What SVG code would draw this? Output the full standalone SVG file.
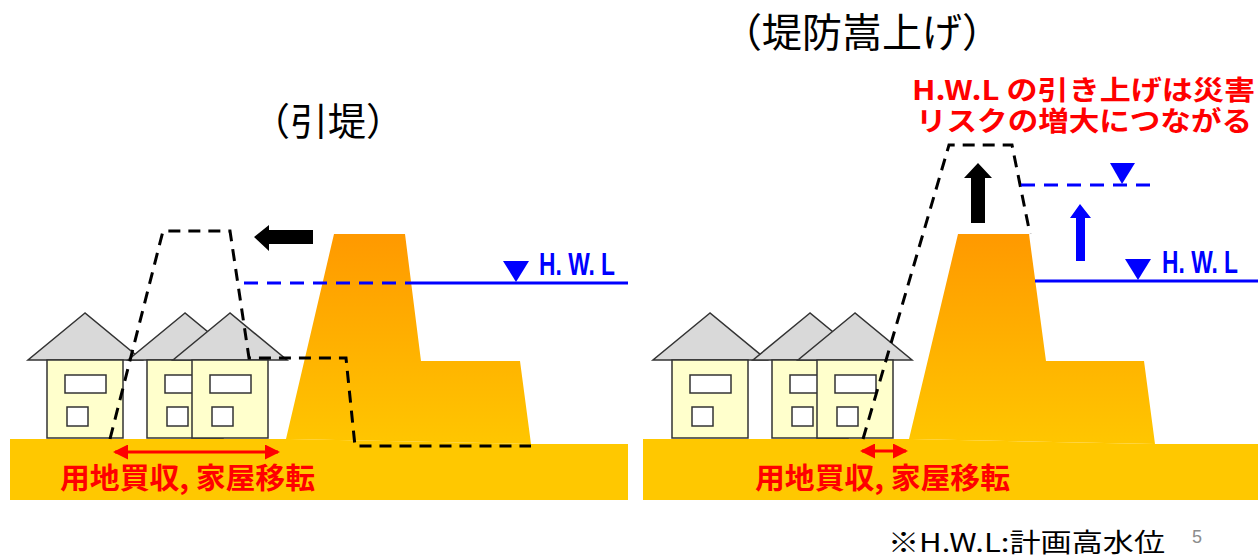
<svg xmlns="http://www.w3.org/2000/svg" width="1260" height="557" viewBox="0 0 1260 557">
  <style>
    .ground { fill: #FFC800; }
    .dike { fill: url(#dikeGrad); }
    .body { fill: #FFFFCC; stroke: #333; stroke-width: 1.5; }
    .roof { fill: #D9D9D9; stroke: #333; stroke-width: 1.5; stroke-linejoin: miter; }
    .win { fill: #FFFFFF; stroke: #333; stroke-width: 1.5; }
    .oldline { fill: none; stroke: #000; stroke-width: 3; stroke-dasharray: 12 8; }
    .hwl { fill: none; stroke: #0000FF; stroke-width: 3; }
    .hwl-dash { fill: none; stroke: #0000FF; stroke-width: 3; stroke-dasharray: 14 9; }
    .tri { fill: #0000FF; }
    .redline { fill: none; stroke: #FF0000; stroke-width: 3; marker-start: url(#redHead); marker-end: url(#redHead); }
    .title { font-family: "Noto Sans CJK JP", "Liberation Sans", sans-serif; fill: #000; }
    .hwltext { font-family: "Liberation Sans", "DejaVu Sans", sans-serif; font-weight: bold; font-size: 32px; fill: #0000FF; }
    .red { font-family: "Noto Sans CJK JP", "Liberation Sans", sans-serif; font-weight: bold; fill: #FF0000; }
    .note { font-family: "Noto Sans CJK JP", "Liberation Sans", sans-serif; font-size: 26px; fill: #000; }
  </style>
  <defs>
    <linearGradient id="dikeGrad" gradientUnits="userSpaceOnUse" x1="0" y1="234" x2="0" y2="444">
      <stop offset="0" stop-color="#FF9900"/>
      <stop offset="1" stop-color="#FFC600"/>
    </linearGradient>
    <marker id="redHead" viewBox="0 0 15 15" refX="13" refY="7.5" markerWidth="15" markerHeight="15" markerUnits="userSpaceOnUse" orient="auto-start-reverse">
      <path d="M0,0 L15,7.5 L0,15 Z" fill="#FF0000"/>
    </marker>
    <g id="house">
      <polygon class="roof" points="38,313 -19,360 95,360"/>
      <rect class="body" x="0" y="360" width="76" height="78"/>
      <rect class="win" x="18" y="375" width="41" height="18"/>
      <rect class="win" x="20" y="407" width="21" height="19"/>
    </g>
  </defs>

  <!-- Titles -->
  <g id="title-left">
    <text class="title" x="328" y="135" font-size="38" text-anchor="middle">（引堤）</text>
  </g>
  <g id="title-right">
    <text class="title" x="862" y="47" font-size="40" text-anchor="middle">（堤防嵩上げ）</text>
  </g>

  <!-- Left: setback levee -->
  <g id="ground-left">
    <polygon class="ground" points="10,439 290,439 531,444 628,444 628,500 10,500"/>
  </g>
  <g id="dike-left">
    <polygon class="dike" points="286,439 334,234 405,234 421,361 520,361 531,444"/>
  </g>
  <g id="houses-left">
    <use href="#house" x="47" y="0"/>
    <use href="#house" x="147" y="0"/>
    <use href="#house" x="192" y="0"/>
  </g>
  <g id="hwl-left">
    <polygon class="tri" points="503,261 529,261 516,282"/>
    <text class="hwltext" x="539" y="275" textLength="76" lengthAdjust="spacingAndGlyphs">H. W. L</text>
  </g>
  <g id="label-left">
    <text class="red" x="60" y="489" font-size="29" textLength="255" lengthAdjust="spacingAndGlyphs">用地買収, 家屋移転</text>
  </g>

  <!-- Right: raised levee -->
  <g id="ground-right">
    <polygon class="ground" points="643,439 912,439 1155,444 1258,444 1258,500 643,500"/>
  </g>
  <g id="dike-right">
    <polygon class="dike" points="909,439 958,234 1029,234 1046,361 1144,361 1155,444"/>
  </g>
  <g id="houses-right">
    <use href="#house" x="672" y="0"/>
    <use href="#house" x="772" y="0"/>
    <use href="#house" x="817" y="0"/>
  </g>
  <g id="hwl-right">
    <polygon class="tri" points="1125,259 1151,259 1138,280"/>
    <text class="hwltext" x="1162" y="273" textLength="76" lengthAdjust="spacingAndGlyphs">H. W. L</text>
  </g>
  <g id="hwl-raised">
    <polygon class="tri" points="1110,163 1135,163 1122,184"/>
  </g>
  <g id="label-right">
    <text class="red" x="755" y="489" font-size="29" textLength="255" lengthAdjust="spacingAndGlyphs">用地買収, 家屋移転</text>
  </g>
  <g id="risk-note">
    <text class="red" x="912" y="100" font-size="27" textLength="343" lengthAdjust="spacingAndGlyphs">H.W.L の引き上げは災害</text>
    <text class="red" x="916" y="131" font-size="27" textLength="336" lengthAdjust="spacingAndGlyphs">リスクの増大につながる</text>
  </g>

  <!-- Footnote and page number -->
  <g id="footnote">
    <text class="note" x="888" y="552" textLength="277" lengthAdjust="spacingAndGlyphs">※H.W.L:計画高水位</text>
  </g>
  <g id="page-number">
    <text x="1192" y="543" font-family="Liberation Sans, sans-serif" font-size="18" fill="#8C8C8C">5</text>
  </g>

  <!-- Lines and arrows -->
  <g id="connectors">
    <!-- left: former levee outline, water level, shift arrow -->
    <polyline class="oldline" points="110,439 163,231 230,231 249,358 346,358 355,446 531,446"/>
    <line class="hwl-dash" x1="244" y1="283" x2="411" y2="283"/>
    <line class="hwl" x1="411" y1="283" x2="628" y2="283"/>
    <polygon fill="#000" points="254,237 269,225 269,230 313,230 313,244 269,244 269,251"/>
    <line class="redline" x1="115" y1="452" x2="278" y2="452"/>

    <!-- right: raised levee outline, water levels, rise arrows -->
    <polyline class="oldline" points="863,439 949,145 1012,145 1030,234"/>
    <polygon fill="#000" points="978,163 992,178 985,178 985,223 971,223 971,178 964,178"/>
    <line class="hwl-dash" x1="1021" y1="185" x2="1154" y2="185"/>
    <polygon fill="#0000FF" points="1080,204 1091,218 1085,218 1085,261 1076,261 1076,218 1070,218"/>
    <line class="hwl" x1="1035" y1="281" x2="1258" y2="281"/>
    <line class="redline" x1="862" y1="451" x2="906" y2="451"/>
  </g>
</svg>
